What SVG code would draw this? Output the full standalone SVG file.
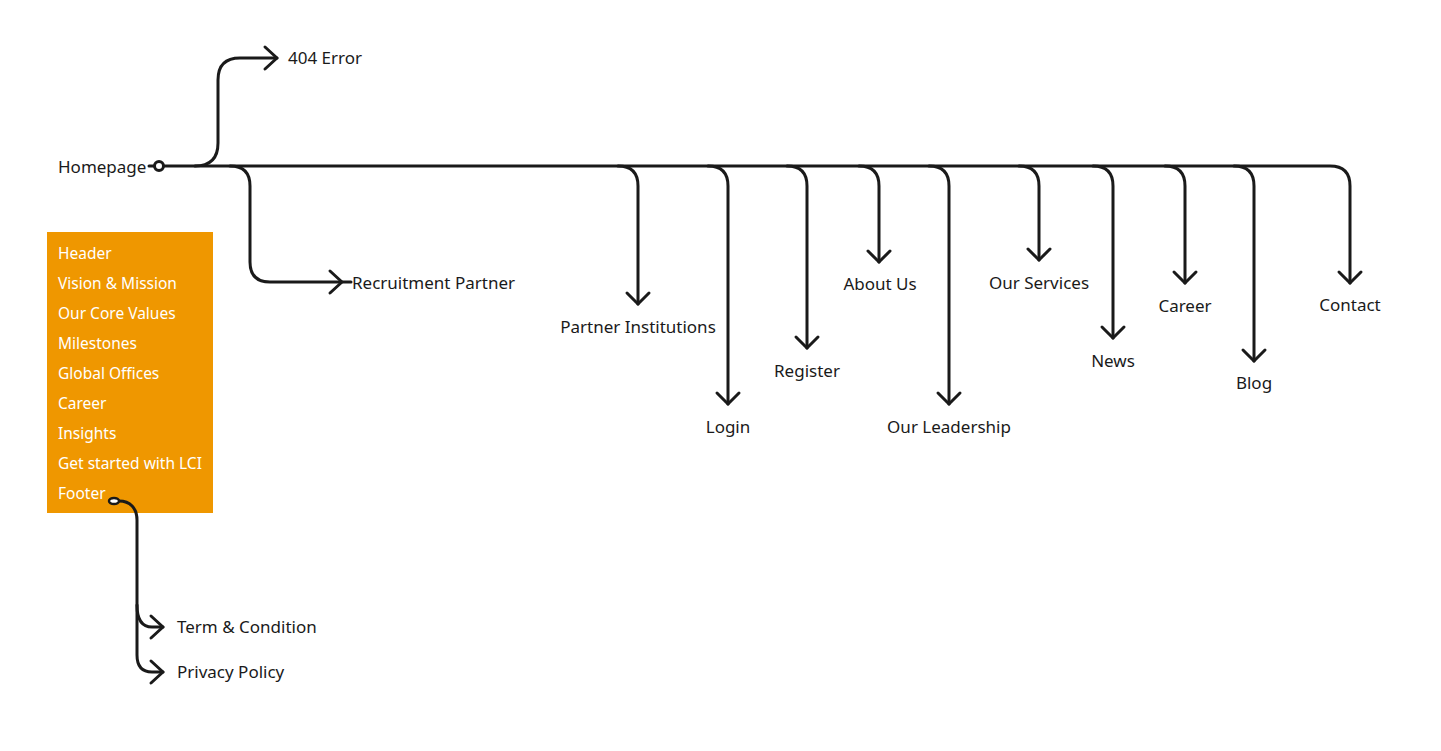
<svg xmlns="http://www.w3.org/2000/svg" width="1441" height="751" viewBox="0 0 1441 751">
<style>
.ln{fill:none;stroke:#1a1a1a;stroke-width:3;stroke-linecap:round;stroke-linejoin:round}
.t{font-family:"Noto Sans","Liberation Sans",sans-serif;font-size:17px;fill:#1a1a1a}
.tm{text-anchor:middle}
.w{font-family:"Noto Sans","Liberation Sans",sans-serif;font-size:15.5px;fill:#ffffff}
</style>
<defs>
<path id="ad" d="M-11,-11 L0,0 L11,-11" class="ln"/>
<path id="ar" d="M-12,-11 L0,0 L-12,11" class="ln"/>
</defs>
<rect width="1441" height="751" fill="#ffffff"/>
<g id="sections">
<rect x="47" y="232" width="166" height="281" fill="#EF9700"/>
<text class="w" x="58" y="259">Header</text>
<text class="w" x="58" y="289">Vision &amp; Mission</text>
<text class="w" x="58" y="319">Our Core Values</text>
<text class="w" x="58" y="349">Milestones</text>
<text class="w" x="58" y="379">Global Offices</text>
<text class="w" x="58" y="409">Career</text>
<text class="w" x="58" y="439">Insights</text>
<text class="w" x="58" y="469">Get started with LCI</text>
<text class="w" x="58" y="499">Footer</text>
</g>
<g id="connectors">
<path class="ln" d="M164,166 H1330 Q1350,166 1350,186 V283"/>
<path class="ln" d="M149,166 H154"/>
<path class="ln" d="M195,166 Q218,166 218,143 V80 Q218,58 240,58 H277"/>
<path class="ln" d="M230,166 Q250,166 250,186 V262 Q250,282 270,282 H351"/>
<path class="ln" d="M618,166 Q638,166 638,186 V304"/>
<path class="ln" d="M708,166 Q728,166 728,186 V404"/>
<path class="ln" d="M787,166 Q807,166 807,186 V348"/>
<path class="ln" d="M859,166 Q879,166 879,186 V262"/>
<path class="ln" d="M929,166 Q949,166 949,186 V404"/>
<path class="ln" d="M1019,166 Q1039,166 1039,186 V260"/>
<path class="ln" d="M1093,166 Q1113,166 1113,186 V338"/>
<path class="ln" d="M1165,166 Q1185,166 1185,186 V283"/>
<path class="ln" d="M1234,166 Q1254,166 1254,186 V361"/>
<use href="#ar" x="277" y="58"/>
<use href="#ar" x="342" y="282"/>
<use href="#ad" x="638" y="304"/>
<use href="#ad" x="728" y="404"/>
<use href="#ad" x="807" y="348"/>
<use href="#ad" x="879" y="262"/>
<use href="#ad" x="949" y="404"/>
<use href="#ad" x="1039" y="260"/>
<use href="#ad" x="1113" y="338"/>
<use href="#ad" x="1185" y="283"/>
<use href="#ad" x="1254" y="361"/>
<use href="#ad" x="1350" y="283"/>
<path class="ln" d="M119,501 C130,501 137,508 137,520 V655 Q137,672 152,672 H163"/>
<path class="ln" d="M137,605 Q137,627 152,627 H163"/>
<use href="#ar" x="163" y="627"/>
<use href="#ar" x="163" y="672"/>
</g>
<g id="footer-port">
<ellipse cx="114" cy="501" rx="5" ry="3" fill="#ffffff" stroke="#1a1a1a" stroke-width="2.5"/>
</g>
<g id="homepage">
<text class="t" x="58" y="173">Homepage</text>
<circle cx="159" cy="166" r="4.5" fill="#ffffff" stroke="#1a1a1a" stroke-width="3"/>
</g>
<g id="n404"><text class="t" x="288" y="64">404 Error</text></g>
<g id="recruitment"><text class="t" x="352" y="289">Recruitment Partner</text></g>
<g id="partner"><text class="t tm" x="638" y="333">Partner Institutions</text></g>
<g id="login"><text class="t tm" x="728" y="433">Login</text></g>
<g id="register"><text class="t tm" x="807" y="377">Register</text></g>
<g id="about"><text class="t tm" x="880" y="290">About Us</text></g>
<g id="leadership"><text class="t tm" x="949" y="433">Our Leadership</text></g>
<g id="services"><text class="t tm" x="1039" y="289">Our Services</text></g>
<g id="news"><text class="t tm" x="1113" y="367">News</text></g>
<g id="career"><text class="t tm" x="1185" y="312">Career</text></g>
<g id="blog"><text class="t tm" x="1254" y="389">Blog</text></g>
<g id="contact"><text class="t tm" x="1350" y="311">Contact</text></g>
<g id="terms"><text class="t" x="177" y="633">Term &amp; Condition</text></g>
<g id="privacy"><text class="t" x="177" y="678">Privacy Policy</text></g>
</svg>
